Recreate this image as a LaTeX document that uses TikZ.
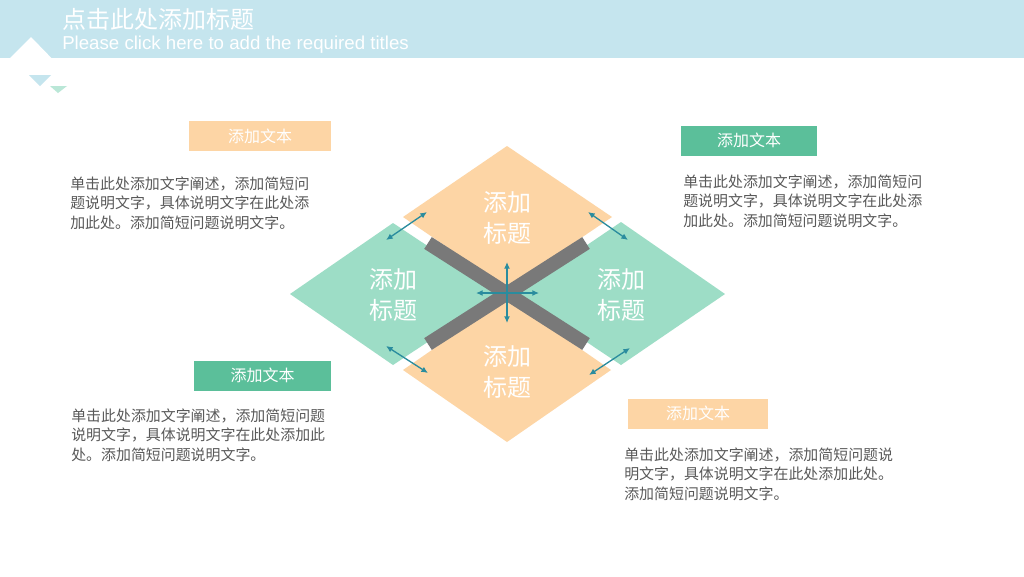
\documentclass[tikz,border=0pt]{standalone}
\usepackage{fontspec}
\setmainfont{Liberation Sans}
\newfontfamily\cjk{Noto Sans CJK SC}
\usetikzlibrary{arrows.meta}
\definecolor{band}{HTML}{C5E5EE}
\definecolor{orng}{HTML}{FDD5A5}
\definecolor{mint}{HTML}{9DDDC6}
\definecolor{grn}{HTML}{5BBF9A}
\definecolor{teal}{HTML}{2A8C9E}
\definecolor{txt}{HTML}{595959}
\begin{document}
\begin{tikzpicture}[x=0.75pt,y=-0.75pt,
  ttl/.style={text=white,font=\cjk\fontsize{18}{23}\selectfont,align=center},
  lbl/.style={text=white,font=\cjk\fontsize{12}{14}\selectfont,minimum height=22.5pt,inner sep=0pt},
  para/.style={text=txt,font=\cjk\fontsize{11.2}{14.3}\selectfont,align=left,anchor=north west,inner sep=0pt},
  arr/.style={teal,line width=1pt,{Latex[length=5pt,width=4.5pt]}-{Latex[length=5pt,width=4.5pt]}}]
\useasboundingbox (0,0) rectangle (1024,576);
\fill[white] (0,0) rectangle (1024,576);
% header
\fill[band] (0,0) rectangle (1024,58);
\fill[white] (10,58)--(31,37)--(65,72)--(79,58)--cycle;
\fill[band] (29,75)--(51,75)--(40,86)--cycle;
\fill[mint!70] (50,86)--(67,86)--(58,93)--cycle;
\node[anchor=west,text=white,font=\cjk\fontsize{18}{20}\selectfont,inner sep=0pt] (t1) at (62,19) {点击此处添加标题};
\node[anchor=west,text=white,font=\fontsize{14}{16}\selectfont,inner sep=0pt] (t2) at (62,45) {Please click here to add the required titles};
% diamonds
\fill[orng] (507,146)--(612,217)--(507,288)--(403,217)--cycle;
\fill[orng] (507,298)--(611,370)--(507,442)--(403,370)--cycle;
\fill[mint] (290,294)--(393,223)--(500,294)--(393,365)--cycle;
\fill[mint] (725,294)--(621,222)--(515,294)--(621,365)--cycle;
\draw[gray!95!black,line width=10.5pt] (428,243)--(586,344);
\draw[gray!95!black,line width=10.5pt] (586,243)--(428,344);
\node[ttl] (d1) at (507,218) {添加\\标题};
\node[ttl] (d2) at (393,295) {添加\\标题};
\node[ttl] (d3) at (621,295) {添加\\标题};
\node[ttl] (d4) at (507,372) {添加\\标题};
% arrows
\coordinate (c1) at (507,262); \coordinate (c2) at (507,323);
\coordinate (c3) at (476,293); \coordinate (c4) at (539,293);
\draw[arr] (c1)--(c2); \draw[arr] (c3)--(c4);
\coordinate (a1) at (427,212); \coordinate (a2) at (386,240);
\coordinate (a3) at (588,212); \coordinate (a4) at (628,240);
\coordinate (a5) at (386,346); \coordinate (a6) at (428,373);
\coordinate (a7) at (589,375); \coordinate (a8) at (630,348);
\draw[arr] (a1)--(a2); \draw[arr] (a3)--(a4);
\draw[arr] (a5)--(a6); \draw[arr] (a7)--(a8);
% labels
\node[lbl,fill=orng,minimum width=106.5pt] (l1) at (260,136) {添加文本};
\node[lbl,fill=grn,minimum width=102pt] (l2) at (749,140.5) {添加文本};
\node[lbl,fill=grn,minimum width=102.75pt] (l3) at (262.5,375.5) {添加文本};
\node[lbl,fill=orng,minimum width=105pt] (l4) at (698,413.5) {添加文本};
% paragraphs
\node[para] (p1) at (70,177) {单击此处添加文字阐述，添加简短问\\题说明文字，具体说明文字在此处添\\加此处。添加简短问题说明文字。};
\node[para] (p2) at (683,175) {单击此处添加文字阐述，添加简短问\\题说明文字，具体说明文字在此处添\\加此处。添加简短问题说明文字。};
\node[para] (p3) at (71,409) {单击此处添加文字阐述，添加简短问题\\说明文字，具体说明文字在此处添加此\\处。添加简短问题说明文字。};
\node[para] (p4) at (624,448) {单击此处添加文字阐述，添加简短问题说\\明文字，具体说明文字在此处添加此处。\\添加简短问题说明文字。};
\end{tikzpicture}
\end{document}
